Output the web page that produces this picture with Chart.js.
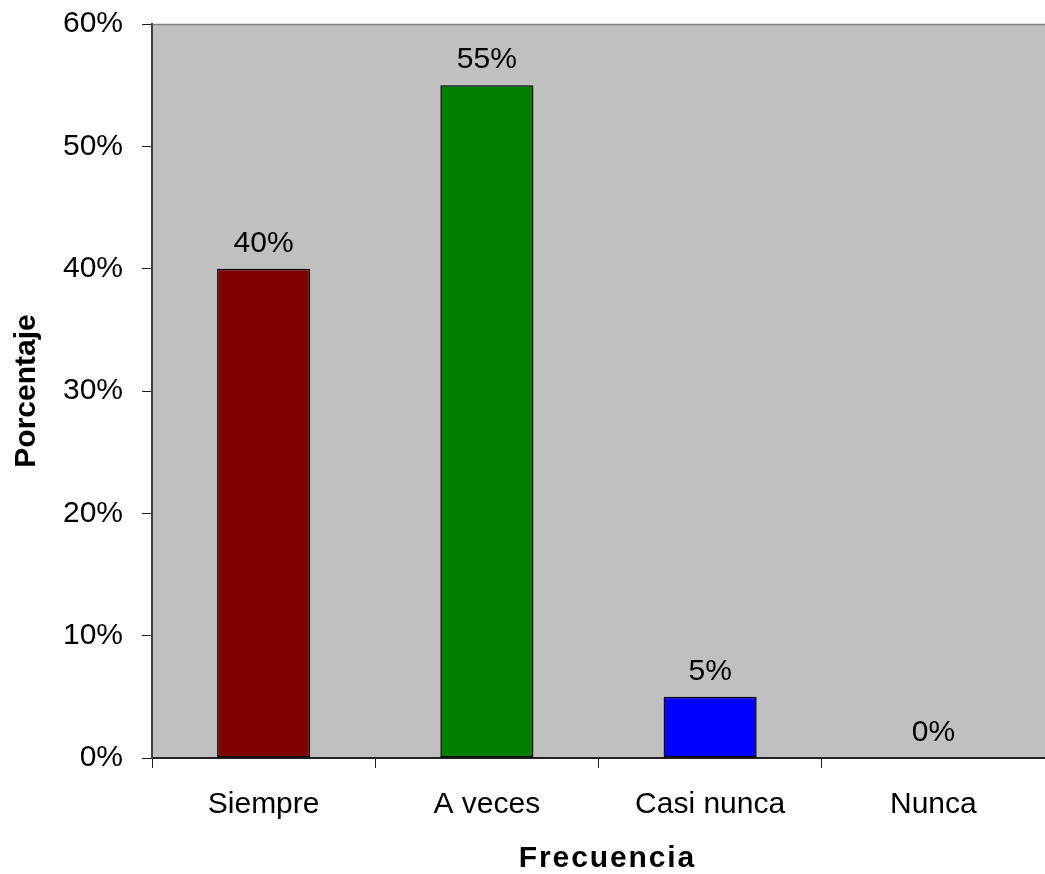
<!DOCTYPE html>
<html>
<head>
<meta charset="utf-8">
<script src="https://cdn.jsdelivr.net/npm/chart.js@4/dist/chart.umd.min.js"></script>
<style>
html,body{margin:0;padding:0;background:#fff;}
#wrap{width:1045px;height:874px;position:relative;}
</style>
</head>
<body>
<div id="wrap"><canvas id="c" width="1045" height="874"></canvas></div>
<script>
const categories = ["Siempre", "A veces", "Casi nunca", "Nunca"];
const values = [40, 55, 5, 0];
const barColors = ["#800000", "#008000", "#0000FF", "#808080"];
const yTicks = [0, 10, 20, 30, 40, 50, 60];
const xTitle = "Frecuencia";
const yTitle = "Porcentaje";

const FONT = "'Liberation Sans', Arial, sans-serif";

const bgPlugin = {
  id: 'bg',
  beforeDraw(chart) {
    const {ctx, chartArea: a} = chart;
    ctx.save();
    ctx.fillStyle = '#C0C0C0';
    ctx.fillRect(a.left, a.top, a.right - a.left, a.bottom - a.top);
    ctx.strokeStyle = '#808080';
    ctx.lineWidth = 1.5;
    ctx.beginPath();
    ctx.moveTo(a.left, a.top + 0.5);
    ctx.lineTo(a.right, a.top + 0.5);
    ctx.stroke();
    ctx.restore();
  }
};

const labelPlugin = {
  id: 'labels',
  afterDatasetsDraw(chart) {
    const {ctx, chartArea: a} = chart;
    const meta = chart.getDatasetMeta(0);
    ctx.save();
    ctx.font = "30px " + FONT;
    ctx.fillStyle = '#000';
    ctx.textAlign = 'center';
    ctx.textBaseline = 'alphabetic';
    meta.data.forEach((bar, i) => {
      ctx.fillText(values[i] + '%', bar.x, bar.y - 17);
    });
    ctx.restore();

    // x title
    ctx.save();
    ctx.font = "bold 30px " + FONT;
    ctx.fillStyle = '#000';
    ctx.textBaseline = 'alphabetic';
    ctx.textAlign = 'left';
    ctx.letterSpacing = '1.9px';
    const w = ctx.measureText(xTitle).width - 1.9;
    const cx = (a.left + a.right) / 2 + 8;
    ctx.fillText(xTitle, cx - w / 2, 867);
    ctx.restore();

    // y title
    ctx.save();
    ctx.font = "bold 30px " + FONT;
    ctx.fillStyle = '#000';
    ctx.translate(35, (a.top + a.bottom) / 2);
    ctx.rotate(-Math.PI / 2);
    ctx.textAlign = 'center';
    ctx.textBaseline = 'alphabetic';
    ctx.fillText(yTitle, 0, 0);
    ctx.restore();
  }
};

new Chart(document.getElementById('c'), {
  type: 'bar',
  data: {
    labels: categories,
    datasets: [{
      data: values,
      backgroundColor: barColors,
      borderColor: '#000',
      borderWidth: 1.5,
      borderSkipped: false,
      categoryPercentage: 1,
      barPercentage: 0.417
    }]
  },
  options: {
    responsive: false,
    animation: false,
    devicePixelRatio: 1,
    layout: {padding: {top: 24, right: 0, left: 0, bottom: 0}},
    plugins: {legend: {display: false}, tooltip: {enabled: false}},
    scales: {
      x: {
        offset: true,
        grid: {offset: true, drawOnChartArea: false, drawTicks: true, tickLength: 10, color: '#222', lineWidth: 1},
        border: {display: true, color: '#222', width: 2},
        ticks: {font: {family: FONT, size: 30}, color: '#000', padding: 19, maxRotation: 0},
        afterFit(scale) { scale.height = 116; scale.paddingLeft = 0; scale.paddingRight = 0; }
      },
      y: {
        min: 0, max: 60,
        afterBuildTicks(scale) { scale.ticks = yTicks.map(v => ({value: v})); },
        grid: {drawOnChartArea: false, drawTicks: true, tickLength: 10, color: '#222', lineWidth: 1},
        border: {display: true, color: '#404040', width: 2},
        ticks: {font: {family: FONT, size: 30}, color: '#000', padding: 19, callback: v => v + '%'},
        afterFit(scale) { scale.width = 152; scale.paddingTop = 0; scale.paddingBottom = 0; }
      }
    }
  },
  plugins: [bgPlugin, labelPlugin]
});
</script>
</body>
</html>
